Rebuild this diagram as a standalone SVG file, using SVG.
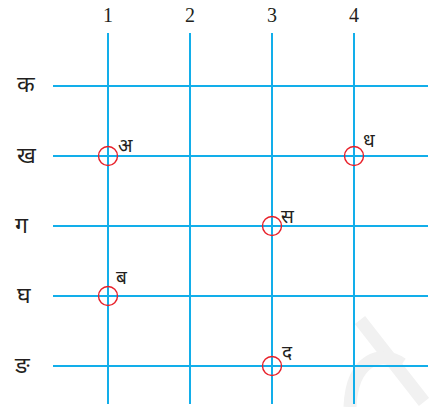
<svg xmlns="http://www.w3.org/2000/svg" width="429" height="407" viewBox="0 0 429 407">
<style>
.grid{stroke:#12aeea;stroke-width:2;fill:none}
.mark{stroke:#e8202a;stroke-width:1.4;fill:none}
.num{font-family:"Liberation Serif",serif;font-size:20px;fill:#231f20;text-anchor:middle}
.dev{font-family:"Noto Sans Devanagari","Lohit Devanagari","Noto Sans",sans-serif;font-size:23px;fill:#231f20}
.lbl{font-family:"Noto Sans Devanagari","Lohit Devanagari","Noto Sans",sans-serif;font-size:19px;fill:#231f20}
</style>
<rect width="429" height="407" fill="#ffffff"/>
<g id="watermark" stroke="#f1f1f1" stroke-width="13" fill="none">
<path d="M 360 320 L 424 402"/>
<path d="M 402 364 C 382 350 352 358 350 407"/>
</g>
<g id="connectors" class="grid">
<line x1="108" y1="33" x2="108" y2="404"/>
<line x1="190" y1="33" x2="190" y2="404"/>
<line x1="272" y1="33" x2="272" y2="404"/>
<line x1="354" y1="33" x2="354" y2="404"/>
<line x1="53" y1="86" x2="428" y2="86"/>
<line x1="53" y1="156" x2="428" y2="156"/>
<line x1="53" y1="226" x2="428" y2="226"/>
<line x1="53" y1="296" x2="428" y2="296"/>
<line x1="53" y1="366" x2="428" y2="366"/>
</g>
<g id="col-labels">
<text class="num" x="108" y="22">1</text>
<text class="num" x="190" y="22">2</text>
<text class="num" x="272" y="22">3</text>
<text class="num" x="354" y="22">4</text>
</g>
<g id="row-labels">
<text class="dev" x="17" y="92">क</text>
<text class="dev" x="17" y="163">ख</text>
<text class="dev" x="15" y="233">ग</text>
<text class="dev" x="17" y="303">घ</text>
<text class="dev" x="15" y="373">ङ</text>
</g>
<g id="point-a"><circle class="mark" cx="108" cy="156" r="9.5"/><text class="lbl" x="118" y="152">अ</text></g>
<g id="point-dh"><circle class="mark" cx="354" cy="156" r="9.5"/><text class="lbl" x="363" y="147">ध</text></g>
<g id="point-s"><circle class="mark" cx="272" cy="226" r="9.5"/><text class="lbl" x="281" y="223">स</text></g>
<g id="point-b"><circle class="mark" cx="108" cy="296" r="9.5"/><text class="lbl" x="116" y="284">ब</text></g>
<g id="point-d"><circle class="mark" cx="272" cy="366" r="9.5"/><text class="lbl" x="282" y="359">द</text></g>
</svg>
